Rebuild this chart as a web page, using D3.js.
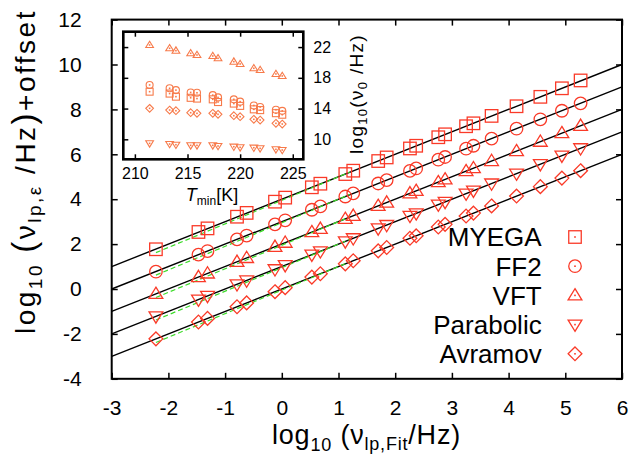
<!DOCTYPE html>
<html>
<head>
<meta charset="utf-8">
<script src="https://cdn.jsdelivr.net/npm/d3@7"></script>
<style>
  html, body { margin: 0; padding: 0; background: #fff; }
  text { font-family: "Liberation Sans", Arial, Helvetica, sans-serif; fill: #000; }
</style>
</head>
<body>
<svg id="chart" width="636" height="456"></svg>
<script>
// ---------------- data ----------------
const seriesNames = ["MYEGA", "FF2", "VFT", "Parabolic", "Avramov"];
const xTicks = [-3, -2, -1, 0, 1, 2, 3, 4, 5, 6];
const yTicks = [-4, -2, 0, 2, 4, 6, 8, 10, 12];

// log10(nu_lp,Fit / Hz)
const xFit = [-2.22, -1.47, -1.31, -0.79, -0.62, -0.12, 0.06, 0.53, 0.68, 1.12, 1.26, 1.70,
              1.85, 2.26, 2.37, 2.76, 2.88, 3.25, 3.38, 3.70, 4.14, 4.56, 4.94, 5.27];
// log10(nu_lp,eps / Hz) + offset
const yMYEGA = [1.77, 2.54, 2.70, 3.22, 3.39, 3.89, 4.07, 4.53, 4.69, 5.12, 5.27, 5.70,
                5.86, 6.26, 6.38, 6.76, 6.89, 7.25, 7.38, 7.71, 8.14, 8.56, 8.94, 9.29];
const yFF2 = [0.77, 1.53, 1.69, 2.21, 2.38, 2.88, 3.06, 3.53, 3.68, 4.12, 4.26, 4.70,
              4.85, 5.26, 5.37, 5.76, 5.88, 6.25, 6.38, 6.70, 7.14, 7.56, 7.94, 8.27];
const yVFT = [-0.22, 0.53, 0.69, 1.21, 1.38, 1.88, 2.06, 2.53, 2.68, 3.12, 3.26, 3.70,
              3.85, 4.26, 4.37, 4.76, 4.88, 5.25, 5.38, 5.70, 6.14, 6.56, 6.94, 7.27];
const yParabolic = [-1.22, -0.47, -0.31, 0.21, 0.38, 0.88, 1.06, 1.53, 1.68, 2.12, 2.26, 2.70,
                    2.85, 3.26, 3.37, 3.76, 3.88, 4.25, 4.38, 4.70, 5.14, 5.56, 5.94, 6.27];
const yAvramov = [-2.22, -1.47, -1.31, -0.79, -0.62, -0.12, 0.06, 0.53, 0.68, 1.12, 1.26, 1.70,
                  1.85, 2.26, 2.37, 2.76, 2.88, 3.25, 3.38, 3.70, 4.14, 4.56, 4.94, 5.27];

// black fit lines y = slope*x + offset
const fitOffset = [4, 3, 2, 1, 0];
const fitSlope = [1, 1, 1, 1, 1];
// green dashed lines (endpoints)
const greenX = [-2.22, 1.2];
const greenStartY = [1.62, 0.62, -0.38, -1.38, -2.38];
const greenEndY = [5.21, 4.21, 3.21, 2.21, 1.21];

// inset: log10(nu0/Hz) vs T_min
const insetXTicks = [210, 215, 220, 225];
const insetYTicks = [10, 14, 18, 22];
const Tmin = [211.4, 213.3, 213.9, 215.3, 215.9, 217.4, 217.9, 219.4, 220.0, 221.3, 221.9, 223.4, 224.0];
const insMYEGA = [16.2, 15.95, 15.55, 15.4, 15.3, 15.2, 14.85, 14.65, 14.35, 13.9, 13.8, 13.4, 13.2];
const insFF2 = [17.07, 16.64, 16.4, 16.1, 16.05, 15.75, 15.45, 15.2, 14.9, 14.4, 14.2, 13.85, 13.7];
const insVFT = [22.27, 21.84, 21.53, 21.19, 20.97, 20.84, 20.54, 20.1, 19.8, 19.24, 19.02, 18.5, 18.24];
const insParabolic = [9.48, 9.39, 9.3, 9.22, 9.22, 9.22, 9.13, 9.04, 8.96, 8.91, 8.83, 8.7, 8.61];
const insAvramov = [14.03, 13.81, 13.72, 13.46, 13.38, 13.38, 13.25, 13.07, 12.94, 12.6, 12.51, 12.08, 11.99];

// ---------------- drawing ----------------
const svg = d3.select("#chart");
const RED = "#fa3a28";
const ORANGE = "#f77a4a";
const GREEN = "#3ddc2a";

const L = 111.7, R = 622, T = 19.6, B = 378.8;
const x = d3.scaleLinear().domain([-3, 6]).range([L, R]);
const y = d3.scaleLinear().domain([-4, 12]).range([B, T]);

const mainY = [yMYEGA, yFF2, yVFT, yParabolic, yAvramov];
const insY = [insMYEGA, insFF2, insVFT, insParabolic, insAvramov];
const shapes = ["square", "circle", "tri", "itri", "diamond"];

function marker(g, shape, cx, cy, s, color, sw, dot) {
  let el;
  if (shape === "square") {
    el = g.append("rect").attr("x", cx - s / 2).attr("y", cy - s / 2).attr("width", s).attr("height", s);
  } else if (shape === "circle") {
    el = g.append("circle").attr("cx", cx).attr("cy", cy).attr("r", s / 2);
  } else if (shape === "tri") {
    const w = s * 0.55, h = s * 0.9;
    el = g.append("path").attr("d", `M${cx},${cy - h * 0.6}L${cx + w},${cy + h * 0.4}L${cx - w},${cy + h * 0.4}Z`);
  } else if (shape === "itri") {
    const w = s * 0.55, h = s * 0.9;
    el = g.append("path").attr("d", `M${cx},${cy + h * 0.6}L${cx + w},${cy - h * 0.4}L${cx - w},${cy - h * 0.4}Z`);
  } else {
    const r = s * 0.55;
    el = g.append("path").attr("d", `M${cx},${cy - r}L${cx + r},${cy}L${cx},${cy + r}L${cx - r},${cy}Z`);
  }
  el.attr("fill", "none").attr("stroke", color).attr("stroke-width", sw);
  if (dot) {
    g.append("rect").attr("x", cx - 0.8).attr("y", cy - 0.8).attr("width", 1.6).attr("height", 1.6).attr("fill", color);
  }
}

// fit lines
const lines = svg.append("g");
fitOffset.forEach((off, i) => {
  lines.append("line")
    .attr("x1", x(-3)).attr("y1", y(fitSlope[i] * -3 + off))
    .attr("x2", x(6)).attr("y2", y(fitSlope[i] * 6 + off))
    .attr("stroke", "#000").attr("stroke-width", 1.4);
  lines.append("line")
    .attr("x1", x(greenX[0])).attr("y1", y(greenStartY[i]))
    .attr("x2", x(greenX[1])).attr("y2", y(greenEndY[i]))
    .attr("stroke", GREEN).attr("stroke-width", 1.2).attr("stroke-dasharray", "5,3");
});

// main markers
const pts = svg.append("g");
mainY.forEach((ys, i) => {
  ys.forEach((v, j) => marker(pts, shapes[i], x(xFit[j]), y(v), 12.5, RED, 1.3, false));
});

// main axes
const fmt = d => String(d);
svg.append("g").attr("transform", `translate(0,${B})`)
  .call(d3.axisBottom(x).tickValues(xTicks).tickSize(-6).tickPadding(21).tickFormat(fmt))
  .call(g => g.select(".domain").remove());
svg.append("g").attr("transform", `translate(0,${T})`)
  .call(d3.axisTop(x).tickValues(xTicks).tickSize(-6).tickFormat(""))
  .call(g => g.select(".domain").remove());
svg.append("g").attr("transform", `translate(${L},0)`)
  .call(d3.axisLeft(y).tickValues(yTicks).tickSize(-6).tickPadding(30).tickFormat(fmt))
  .call(g => g.select(".domain").remove());
svg.append("g").attr("transform", `translate(${R},0)`)
  .call(d3.axisRight(y).tickValues(yTicks).tickSize(-6).tickFormat(""))
  .call(g => g.select(".domain").remove());
svg.selectAll(".tick line").attr("stroke", "#000").attr("stroke-width", 1.5);
svg.selectAll(".tick text").attr("font-size", 21).attr("font-family", "Liberation Sans, Arial, sans-serif");

svg.append("rect").attr("x", L).attr("y", T).attr("width", R - L).attr("height", B - T)
  .attr("fill", "none").attr("stroke", "#000").attr("stroke-width", 2);

// axis titles
const xt = svg.append("text").attr("x", 272).attr("y", 444).attr("font-size", 27).attr("letter-spacing", 0.8);
xt.append("tspan").text("log");
xt.append("tspan").attr("font-size", 18).attr("dy", 7).text("10");
xt.append("tspan").attr("dy", -7).text(" ");
xt.append("tspan").text("(");
xt.append("tspan").text("ν");
xt.append("tspan").attr("font-size", 18).attr("dy", 6).text("lp,Fit");
xt.append("tspan").attr("dy", -6).text("/Hz");
xt.append("tspan").text(")");

const yt = svg.append("text").attr("transform", "translate(35,334) rotate(-90)")
  .attr("font-size", 28).attr("letter-spacing", 2.5);
yt.append("tspan").text("log");
yt.append("tspan").attr("font-size", 19).attr("dy", 7).text("10");
yt.append("tspan").attr("dy", -7).text(" ");
yt.append("tspan").attr("font-size", 33).text("(");
yt.append("tspan").text("ν");
yt.append("tspan").attr("font-size", 19).attr("dy", 6).text("lp,ε");
yt.append("tspan").attr("dy", -6).text(" /Hz");
yt.append("tspan").attr("font-size", 33).text(")");
yt.append("tspan").text("+offset");

// legend
const lg = svg.append("g");
seriesNames.forEach((name, i) => {
  const ly = 237 + i * 29.2;
  lg.append("text").attr("x", 541.7).attr("y", ly).attr("dy", "0.36em")
    .attr("text-anchor", "end").attr("font-size", 26).text(name);
  marker(lg, shapes[i], 575, ly, 12.5, RED, 1.3, true);
});

// ---------------- inset ----------------
const IL = 123.3, IR = 303.3, IT = 31.7, IB = 159.3;
const ix = d3.scaleLinear().domain([208.9, 226]).range([IL, IR]);
const iy = d3.scaleLinear().domain([7.4, 24]).range([IB, IT]);
const ins = svg.append("g");
ins.append("rect").attr("x", IL).attr("y", IT).attr("width", IR - IL).attr("height", IB - IT).attr("fill", "#fff");

insY.forEach((ys, i) => {
  ys.forEach((v, j) => marker(ins, shapes[i], ix(Tmin[j]), iy(v), 7, ORANGE, 1.1, true));
});

ins.append("g").attr("transform", `translate(0,${IB})`)
  .call(d3.axisBottom(ix).tickValues(insetXTicks).tickSize(-5).tickPadding(8.5).tickFormat(fmt))
  .call(g => g.select(".domain").remove());
ins.append("g").attr("transform", `translate(0,${IT})`)
  .call(d3.axisTop(ix).tickValues(insetXTicks).tickSize(-5).tickFormat(""))
  .call(g => g.select(".domain").remove());
ins.append("g").attr("transform", `translate(${IR},0)`)
  .call(d3.axisRight(iy).tickValues(insetYTicks).tickSize(-5).tickPadding(10).tickFormat(fmt))
  .call(g => g.select(".domain").remove());
ins.append("g").attr("transform", `translate(${IL},0)`)
  .call(d3.axisLeft(iy).tickValues(insetYTicks).tickSize(-5).tickFormat(""))
  .call(g => g.select(".domain").remove());
ins.selectAll(".tick line").attr("stroke", "#000").attr("stroke-width", 1.5);
ins.selectAll(".tick text").attr("font-size", 16).attr("font-family", "Liberation Sans, Arial, sans-serif");

ins.append("rect").attr("x", IL).attr("y", IT).attr("width", IR - IL).attr("height", IB - IT)
  .attr("fill", "none").attr("stroke", "#000").attr("stroke-width", 2.6);

const ixt = ins.append("text").attr("x", 212).attr("y", 201).attr("text-anchor", "middle").attr("font-size", 18);
ixt.append("tspan").attr("font-style", "italic").text("T");
ixt.append("tspan").attr("font-size", 12).attr("dy", 4).text("min");
ixt.append("tspan").attr("dy", -4).text("[K]");

const iyt = ins.append("text").attr("transform", "translate(363,94) rotate(-90)")
  .attr("text-anchor", "middle").attr("font-size", 19).attr("letter-spacing", 1.3);
iyt.append("tspan").text("log");
iyt.append("tspan").attr("font-size", 13).attr("dy", 4).text("10");
iyt.append("tspan").attr("dy", -4).text("(");
iyt.append("tspan").text("ν");
iyt.append("tspan").attr("font-size", 13).attr("dy", 4).text("0");
iyt.append("tspan").attr("dy", -4).text(" /Hz)");
</script>
</body>
</html>
